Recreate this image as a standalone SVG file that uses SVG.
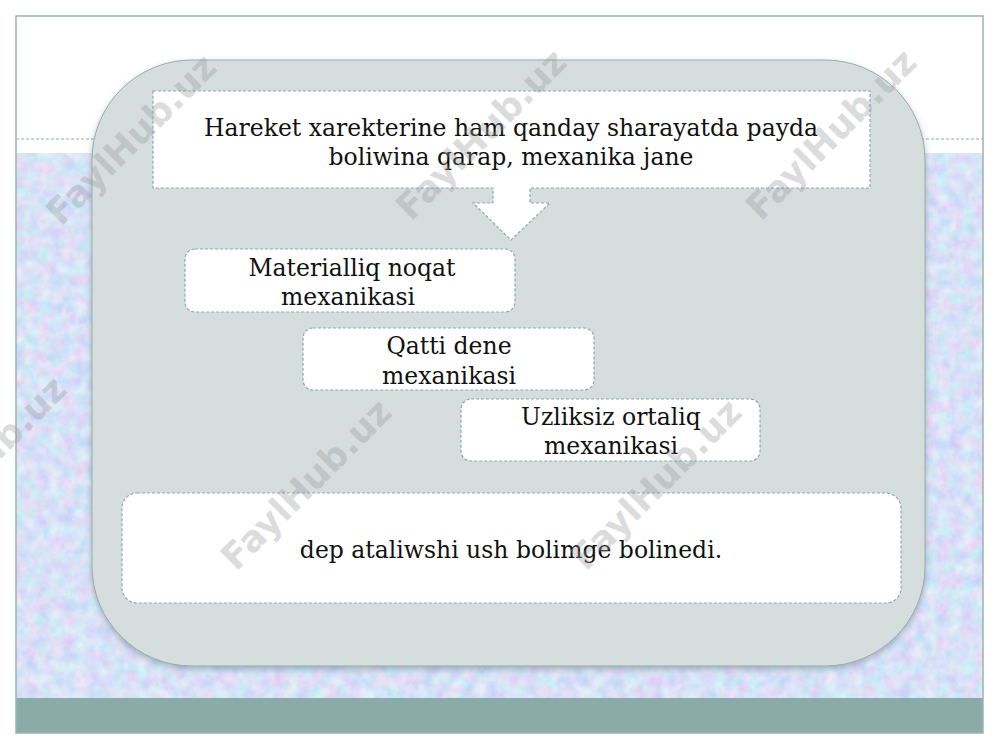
<svg xmlns="http://www.w3.org/2000/svg" width="1000" height="750" viewBox="0 0 1000 750">
<defs>
<filter id="tex" x="0" y="0" width="100%" height="100%">
<feTurbulence type="fractalNoise" baseFrequency="0.08" numOctaves="3" seed="7" result="n"/>
<feColorMatrix in="n" type="matrix" values="0.5 0 0 0 0.44  0 0.4 0 0 0.56  0 0 0.1 0 0.88  0 0 0 0 1"/>
</filter>
<filter id="sh" x="-5%" y="-5%" width="110%" height="112%">
<feDropShadow dx="0" dy="3" stdDeviation="3" flood-color="#5a6e7a" flood-opacity="0.45"/>
</filter>
<style>
.box{fill:#ffffff;stroke:#8aaba8;stroke-width:1.2;stroke-dasharray:3 2}
.t{font-family:"DejaVu Serif","Liberation Serif",serif;font-size:23.5px;fill:#111;text-anchor:middle}
.wm{font-family:"DejaVu Sans","Liberation Sans",sans-serif;font-weight:bold;font-size:36px;fill:#9a9a9a;fill-opacity:0.35;text-anchor:middle}
</style>
</defs>
<rect x="0" y="0" width="1000" height="750" fill="#ffffff"/>
<rect x="16" y="153" width="967" height="546" fill="#c4d3ef" filter="url(#tex)"/>
<rect x="16" y="698" width="967" height="35" fill="#8aaba8"/>
<line x1="16" y1="139" x2="983" y2="139" stroke="#9aa7a6" stroke-width="1" stroke-dasharray="3 2"/>
<rect x="16" y="16" width="967" height="717" fill="none" stroke="#9fb3b1" stroke-width="1.5"/>
<rect x="92" y="60" width="833" height="606" rx="100" ry="100" fill="#d5dedd" stroke="#97aeab" stroke-width="1" filter="url(#sh)"/>
<g id="node-top">
<path class="box" d="M153,91 H870 V188 H530 V203 H550 L511,240 L473,203 H493 V188 H153 Z"/>
<text class="t" x="511" y="136">Hareket xarekterine ham qanday sharayatda payda</text>
<text class="t" x="511" y="165">boliwina qarap, mexanika jane</text>
</g>
<g id="node-1">
<rect class="box" x="185" y="249" width="330" height="63" rx="10"/>
<text class="t" x="352" y="276">Materialliq noqat</text>
<text class="t" x="348" y="305">mexanikasi</text>
</g>
<g id="node-2">
<rect class="box" x="303" y="328" width="291" height="62" rx="10"/>
<text class="t" x="449" y="354">Qatti dene</text>
<text class="t" x="449" y="384">mexanikasi</text>
</g>
<g id="node-3">
<rect class="box" x="461" y="399" width="299" height="62" rx="10"/>
<text class="t" x="611" y="425">Uzliksiz ortaliq</text>
<text class="t" x="611" y="454">mexanikasi</text>
</g>
<g id="node-bottom">
<rect class="box" x="122" y="493" width="779" height="110" rx="15"/>
<text class="t" x="511" y="558">dep ataliwshi ush bolimge bolinedi.</text>
</g>
<g id="connectors"></g>
<g id="watermarks">
<text class="wm" transform="translate(140,148) rotate(-45)">FaylHub.uz</text>
<text class="wm" transform="translate(490,143) rotate(-45)">FaylHub.uz</text>
<text class="wm" transform="translate(840,143) rotate(-45)">FaylHub.uz</text>
<text class="wm" transform="translate(-10,470) rotate(-45)">FaylHub.uz</text>
<text class="wm" transform="translate(315,493) rotate(-45)">FaylHub.uz</text>
<text class="wm" transform="translate(665,493) rotate(-45)">FaylHub.uz</text>
</g>
</svg>
